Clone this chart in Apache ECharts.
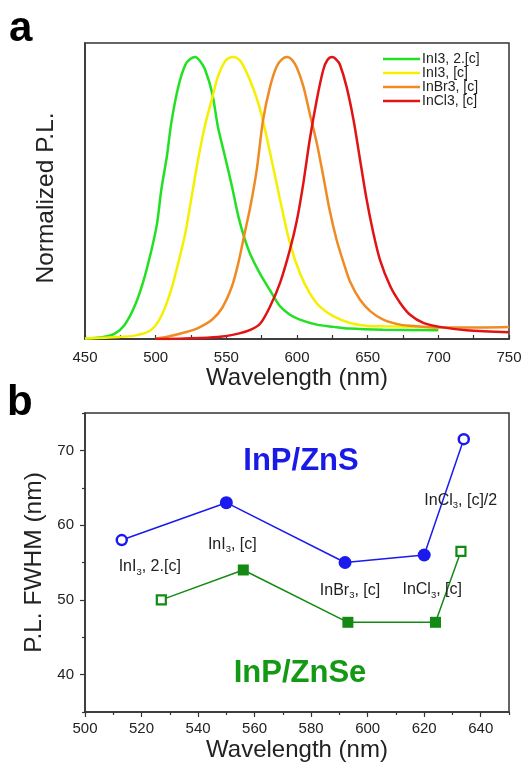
<!DOCTYPE html>
<html>
<head>
<meta charset="utf-8">
<script src="https://cdn.jsdelivr.net/npm/echarts@6/dist/echarts.min.js"></script>
<style>
  html, body { margin: 0; padding: 0; background: #fff; }
  #chart { width: 521px; height: 763px; }
</style>
</head>
<body>
<div id="chart"></div>
<script>
// Panel a: normalized photoluminescence spectra, [wavelength nm, normalized intensity]
const specInI3x2 = [
  [450,0.002],[462,0.006],[471,0.019],[478,0.05],[485,0.115],[491,0.2],[497,0.315],[501,0.41],
  [504,0.53],[508,0.65],[511,0.765],[516,0.895],[521,0.973],[524.5,0.993],[528,1.0],[531.5,0.985],
  [535,0.955],[540,0.872],[544,0.754],[549,0.648],[554,0.541],[558.5,0.435],[563,0.355],[567,0.3],
  [574,0.23],[581,0.172],[588,0.116],[595,0.086],[602,0.069],[614,0.051],[626,0.043],[637,0.037],
  [661,0.033],[700,0.031]
];
const specInI3 = [
  [450,0.002],[474,0.007],[485,0.012],[494,0.024],[499.5,0.045],[505,0.092],[511,0.175],[516,0.27],
  [521,0.376],[525.5,0.506],[530,0.636],[535,0.76],[540,0.855],[544,0.931],[549,0.985],[552,0.997],
  [555,1.0],[558,0.995],[561,0.979],[567,0.915],[574,0.813],[581,0.66],[588,0.494],[595,0.34],
  [602,0.234],[609,0.163],[616,0.116],[626,0.08],[637.5,0.057],[649,0.047],[661,0.045],[685,0.043],
  [700,0.041]
];
const specInBr3 = [
  [500,0.002],[509,0.009],[521,0.024],[530,0.039],[540,0.069],[547,0.11],[554,0.187],[558.5,0.27],
  [563,0.376],[567,0.47],[571.5,0.6],[576,0.777],[581,0.896],[585.6,0.967],[589.5,0.993],[593,1.0],
  [596.5,0.99],[600,0.961],[604.5,0.896],[609,0.8],[614,0.695],[618.6,0.577],[623,0.459],[628,0.352],
  [633,0.27],[637.5,0.204],[644.6,0.139],[652,0.098],[661,0.069],[673,0.051],[685,0.045],[699,0.041],
  [720,0.041],[750,0.043]
];
const specInCl3 = [
  [500,0.0],[521,0.002],[544,0.007],[558.5,0.019],[567,0.032],[574,0.055],[581,0.116],[588,0.199],
  [595,0.317],[600,0.423],[604.5,0.553],[609,0.707],[614,0.849],[618.6,0.955],[621.5,0.99],[625,1.0],
  [628,0.99],[630.4,0.973],[635,0.896],[640,0.777],[644.6,0.636],[649.3,0.494],[654,0.376],[658.7,0.281],
  [666,0.187],[673,0.128],[680,0.086],[689.4,0.057],[701,0.043],[720,0.031],[750,0.024]
];
const specNames = ['InI3, 2.[c]', 'InI3, [c]', 'InBr3, [c]', 'InCl3, [c]'];

// Panel b: emission peak (nm) and FWHM (nm)
const znsWavelength = [513, 550, 592, 620, 634];
const znsFwhm = [58, 63, 55, 56, 71.5];
const znsOpen = [true, false, false, false, true];
const znseWavelength = [527, 556, 593, 624, 633];
const znseFwhm = [50, 54, 47, 47, 56.5];
const znseOpen = [true, false, false, false, true];
const pointLabels = [
  '{n|InI}{s|3}{n|, 2.[c]}',
  '{n|InI}{s|3}{n|, [c]}',
  '{n|InBr}{s|3}{n|, [c]}',
  '{n|InCl}{s|3}{n|, [c]}',
  '{n|InCl}{s|3}{n|, [c]/2}'
];
const pointLabelOffsets = [[28, 27], [6, 42], [5, 28], [8, 35], [-3, 61]];

const bXTicks = [500, 520, 540, 560, 580, 600, 620, 640];
const bXMinor = [510, 530, 550, 570, 590, 610, 630, 650];
const bYTicks = [40, 50, 60, 70];
const bYMinor = [35, 45, 55, 65, 75];

const FONT = 'Liberation Sans, Arial, sans-serif';
const INK = '#222';
const AXIS = '#333';
const specColors = ['#22e022', '#f4f000', '#f08a22', '#e01414'];
const BLUE = '#1a1aee';
const GREEN = '#138a13';

const chart = echarts.init(document.getElementById('chart'), null, { renderer: 'canvas' });

const specSeries = [specInI3x2, specInI3, specInBr3, specInCl3].map((d, i) => ({
  type: 'line', name: specNames[i], xAxisIndex: 0, yAxisIndex: 0,
  data: d, symbol: 'none', smooth: 0.3,
  lineStyle: { color: specColors[i], width: 2.5 }, itemStyle: { color: specColors[i] },
  z: 2 + i
}));

const richLabel = {
  n: { fontFamily: FONT, fontSize: 16, color: INK, lineHeight: 20, verticalAlign: 'middle' },
  s: { fontFamily: FONT, fontSize: 9.5, color: INK, lineHeight: 9, verticalAlign: 'bottom' }
};

const znsData = znsWavelength.map((w, i) => ({
  value: [w, znsFwhm[i]],
  symbol: 'circle',
  symbolSize: znsOpen[i] ? 10 : 13,
  itemStyle: znsOpen[i]
    ? { color: '#fff', borderColor: BLUE, borderWidth: 2.5 }
    : { color: BLUE, borderWidth: 0 },
  label: {
    show: true, position: 'inside', offset: pointLabelOffsets[i],
    formatter: pointLabels[i], rich: richLabel, color: INK
  }
}));

const znseData = znseWavelength.map((w, i) => ({
  value: [w, znseFwhm[i]],
  symbol: 'rect',
  symbolSize: znseOpen[i] ? 9 : 11,
  itemStyle: znseOpen[i]
    ? { color: '#fff', borderColor: GREEN, borderWidth: 2.2 }
    : { color: GREEN, borderWidth: 0 }
}));

const axisLineStyle = { color: AXIS, width: 1.5 };

chart.setOption({
  animation: false,
  backgroundColor: '#fff',
  textStyle: { fontFamily: FONT },
  grid: [
    { left: 85, top: 43, width: 424, height: 296, outerBoundsMode: 'none', containLabel: false,
      show: true, borderColor: AXIS, borderWidth: 1.5, backgroundColor: 'transparent' },
    { left: 85, top: 413, width: 424, height: 299, outerBoundsMode: 'none', containLabel: false,
      show: true, borderColor: AXIS, borderWidth: 1.5, backgroundColor: 'transparent' }
  ],
  legend: {
    data: specNames, orient: 'vertical', left: 383, top: 52, padding: 0,
    icon: 'rect', itemWidth: 37, itemHeight: 2.5, itemGap: 0,
    textStyle: { fontFamily: FONT, fontSize: 14, color: INK, lineHeight: 13.4, padding: [0, 0, 0, -3] },
    selectedMode: false
  },
  xAxis: [
    {
      gridIndex: 0, type: 'value', min: 450, max: 750, interval: 50,
      axisLine: { lineStyle: axisLineStyle },
      axisTick: { inside: true, length: 4, lineStyle: { color: AXIS, width: 1.2 } },
      minorTick: { show: true, splitNumber: 2, length: 4, lineStyle: { color: AXIS, width: 1.2 } },
      axisLabel: { fontSize: 15, color: INK, margin: 11, fontFamily: FONT },
      splitLine: { show: false },
      name: 'Wavelength (nm)', nameLocation: 'middle', nameGap: 25,
      nameTextStyle: { fontSize: 24, color: INK, fontFamily: FONT }
    },
    {
      gridIndex: 1, type: 'value', min: 500, max: 650,
      axisLine: { lineStyle: axisLineStyle },
      axisTick: { length: 5, customValues: bXTicks, lineStyle: { color: AXIS, width: 1.2 } },
      axisLabel: { fontSize: 15, color: INK, margin: 9, customValues: bXTicks, fontFamily: FONT },
      splitLine: { show: false },
      name: 'Wavelength (nm)', nameLocation: 'middle', nameGap: 26,
      nameTextStyle: { fontSize: 24, color: INK, fontFamily: FONT }
    },
    {
      gridIndex: 1, type: 'value', min: 500, max: 650, position: 'bottom',
      axisLine: { show: false },
      axisTick: { length: 3, customValues: bXMinor, lineStyle: { color: AXIS, width: 1.2 } },
      axisLabel: { show: false },
      splitLine: { show: false }
    }
  ],
  yAxis: [
    {
      gridIndex: 0, type: 'value', min: 0, max: 1.05,
      axisLine: { show: true, lineStyle: axisLineStyle },
      axisTick: { show: false }, axisLabel: { show: false }, splitLine: { show: false },
      name: 'Normalized P.L.', nameLocation: 'middle', nameGap: 26,
      nameTextStyle: { fontSize: 24.5, color: INK, fontFamily: FONT, padding: [0, 14, 0, 0] }
    },
    {
      gridIndex: 1, type: 'value', min: 35, max: 75,
      axisLine: { show: true, lineStyle: axisLineStyle },
      axisTick: { length: 5, customValues: bYTicks, lineStyle: { color: AXIS, width: 1.2 } },
      axisLabel: { fontSize: 15, color: INK, margin: 11, customValues: bYTicks, fontFamily: FONT },
      splitLine: { show: false },
      name: 'P.L. FWHM (nm)', nameLocation: 'middle', nameGap: 34,
      nameTextStyle: { fontSize: 24.5, color: INK, fontFamily: FONT }
    },
    {
      gridIndex: 1, type: 'value', min: 35, max: 75, position: 'left',
      axisLine: { show: false },
      axisTick: { length: 3, customValues: bYMinor, lineStyle: { color: AXIS, width: 1.2 } },
      axisLabel: { show: false }, splitLine: { show: false }
    }
  ],
  series: specSeries.concat([
    {
      type: 'line', name: 'InP/ZnS', xAxisIndex: 1, yAxisIndex: 1,
      data: znsData, lineStyle: { color: BLUE, width: 1.5 }, itemStyle: { color: BLUE },
      z: 4
    },
    {
      type: 'line', name: 'InP/ZnSe', xAxisIndex: 1, yAxisIndex: 1,
      data: znseData, lineStyle: { color: GREEN, width: 1.5 }, itemStyle: { color: GREEN },
      z: 3
    }
  ]),
  graphic: [
    { type: 'text', left: 9, top: 8, style: { text: 'a', font: 'bold 42px ' + FONT, fill: '#000' } },
    { type: 'text', left: 7, top: 382, style: { text: 'b', font: 'bold 42px ' + FONT, fill: '#000' } },
    { type: 'text', x: 301, y: 461, style: { text: 'InP/ZnS', font: 'bold 31px ' + FONT, fill: '#1a1ae6', align: 'center', verticalAlign: 'middle' } },
    { type: 'text', x: 300, y: 673, style: { text: 'InP/ZnSe', font: 'bold 31px ' + FONT, fill: '#139913', align: 'center', verticalAlign: 'middle' } }
  ]
});
</script>
</body>
</html>
